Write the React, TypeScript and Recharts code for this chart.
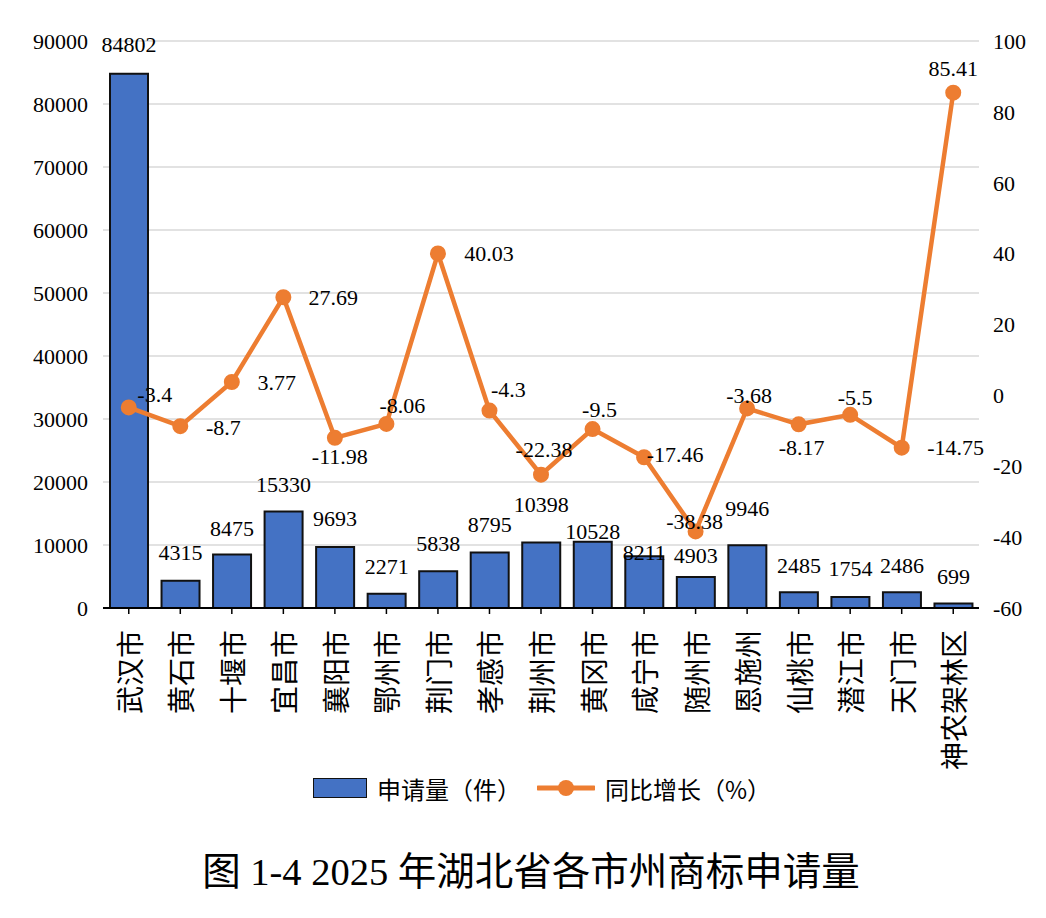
import { ComposedChart, Bar, Line, XAxis, YAxis, CartesianGrid, LabelList } from "recharts";

// 各市州名称
const cities = [
  "武汉市", "黄石市", "十堰市", "宜昌市", "襄阳市", "鄂州市", "荆门市", "孝感市", "荆州市",
  "黄冈市", "咸宁市", "随州市", "恩施州", "仙桃市", "潜江市", "天门市", "神农架林区",
];
// 申请量（件）
const applications = [
  84802, 4315, 8475, 15330, 9693, 2271, 5838, 8795, 10398,
  10528, 8211, 4903, 9946, 2485, 1754, 2486, 699,
];
// 同比增长（%）
const growth = [
  -3.4, -8.7, 3.77, 27.69, -11.98, -8.06, 40.03, -4.3, -22.38,
  -9.5, -17.46, -38.38, -3.68, -8.17, -5.5, -14.75, 85.41,
];
const leftTicks = [0, 10000, 20000, 30000, 40000, 50000, 60000, 70000, 80000, 90000];
const rightTicks = [-60, -40, -20, 0, 20, 40, 60, 80, 100];

const chartData = cities.map((name, i) => ({
  name,
  apps: applications[i],
  growth: growth[i],
}));

// label placement (hand-tuned like the original excel layout)
const BAR_LABEL_GAP = [29, 28, 26, 27, 28, 27, 28, 28, 38, 10, 4, 22, 37, 27, 28, 27, 27];
const LINE_LABEL_OFFSET: [number, number][] = [
  [26, -13], [43, 1], [45, 0], [50, 0], [5, 19], [16, -18], [51, 0], [19, -21], [3, -25],
  [7, -20], [31, -3], [-1, -10], [2, -13], [3, 23], [5, -17], [54, 0], [0, -24],
];

const BLUE = "#4472C4";
const ORANGE = "#ED7D31";
const NUM_FONT = "'Liberation Serif', 'Noto Sans CJK SC', serif";
const CJK_FONT = "'Noto Sans CJK SC', sans-serif";
const numStyle = { fontFamily: NUM_FONT, fontSize: 22 };

const CityTick = (props: any) => {
  const { x, y, payload } = props;
  return (
    <text
      x={x}
      y={y}
      transform={`rotate(-90, ${x}, ${y})`}
      textAnchor="end"
      dominantBaseline="central"
      style={{ fontFamily: CJK_FONT, fontSize: 28 }}
      fill="#000"
    >
      {payload.value}
    </text>
  );
};

const renderBarLabel = (props: any) => {
  const vb = props.viewBox || {};
  const x = Number(props.x ?? vb.x);
  const y = Number(props.y ?? vb.y);
  const w = Number(props.width ?? vb.width);
  const i = props.index ?? 0;
  return (
    <text
      x={x + w / 2}
      y={y - BAR_LABEL_GAP[i]}
      textAnchor="middle"
      dominantBaseline="central"
      style={numStyle}
      fill="#000"
    >
      {props.value}
    </text>
  );
};

const renderLineLabel = (props: any) => {
  const x = Number(props.x);
  const y = Number(props.y);
  const i = props.index ?? 0;
  const [dx, dy] = LINE_LABEL_OFFSET[i];
  return (
    <text
      x={x + dx}
      y={y + dy}
      textAnchor="middle"
      dominantBaseline="central"
      style={numStyle}
      fill="#000"
    >
      {props.value}
    </text>
  );
};

export default function App() {
  return (
    <div style={{ position: "absolute", left: 0, top: 0, width: 1046, height: 918, background: "#fff" }}>
      <ComposedChart
        width={1046}
        height={918}
        data={chartData}
        margin={{ top: 41, right: 0, bottom: 110, left: 0 }}
      >
        <CartesianGrid yAxisId="left" vertical={false} stroke="#d9d9d9" strokeWidth={1.5} />
        <XAxis
          dataKey="name"
          height={200}
          interval={0}
          axisLine={{ stroke: "#000", strokeWidth: 2 }}
          tickLine={{ stroke: "#000", strokeWidth: 1.5 }}
          tickSize={6}
          tickMargin={16}
          tick={<CityTick />}
        />
        <YAxis
          yAxisId="left"
          width={103}
          domain={[0, 90000]}
          ticks={leftTicks}
          interval={0}
          axisLine={false}
          tickLine={false}
          tickSize={0}
          tickMargin={15}
          tick={{ style: numStyle, fill: "#000" }}
        />
        <YAxis
          yAxisId="right"
          orientation="right"
          width={67}
          domain={[-60, 100]}
          ticks={rightTicks}
          interval={0}
          axisLine={false}
          tickLine={false}
          tickSize={0}
          tickMargin={14}
          tick={{ style: numStyle, fill: "#000", textAnchor: "start" }}
        />
        <Bar
          yAxisId="left"
          dataKey="apps"
          barSize={38}
          fill={BLUE}
          stroke="#111"
          strokeWidth={2}
          isAnimationActive={false}
        >
          <LabelList dataKey="apps" content={renderBarLabel} />
        </Bar>
        <Line
          yAxisId="right"
          dataKey="growth"
          stroke={ORANGE}
          strokeWidth={4.5}
          dot={{ r: 7, fill: ORANGE, stroke: ORANGE, strokeWidth: 2 }}
          isAnimationActive={false}
        >
          <LabelList dataKey="growth" content={renderLineLabel} />
        </Line>
      </ComposedChart>

      {/* legend */}
      <div style={{ position: "absolute", left: 313, top: 772, height: 32, display: "flex", alignItems: "center", fontFamily: CJK_FONT, fontSize: 24, color: "#000", whiteSpace: "nowrap" }}>
        <span style={{ display: "inline-block", width: 52, height: 18, background: BLUE, border: "1.5px solid #111" }} />
        <span style={{ marginLeft: 10, width: 160 }}>申请量（件）</span>
        <svg width={58} height={20}>
          <line x1={1} y1={10} x2={57} y2={10} stroke={ORANGE} strokeWidth={5} strokeLinecap="round" />
          <circle cx={29} cy={10} r={8} fill={ORANGE} />
        </svg>
        <span style={{ marginLeft: 10 }}>同比增长（%）</span>
      </div>

      {/* title */}
      <div style={{ position: "absolute", left: 0, width: 1062, top: 848, textAlign: "center", fontFamily: NUM_FONT, fontSize: 38.5, color: "#000", whiteSpace: "nowrap", lineHeight: "48px" }}>
        图 1-4 2025 年湖北省各市州商标申请量
      </div>
    </div>
  );
}
